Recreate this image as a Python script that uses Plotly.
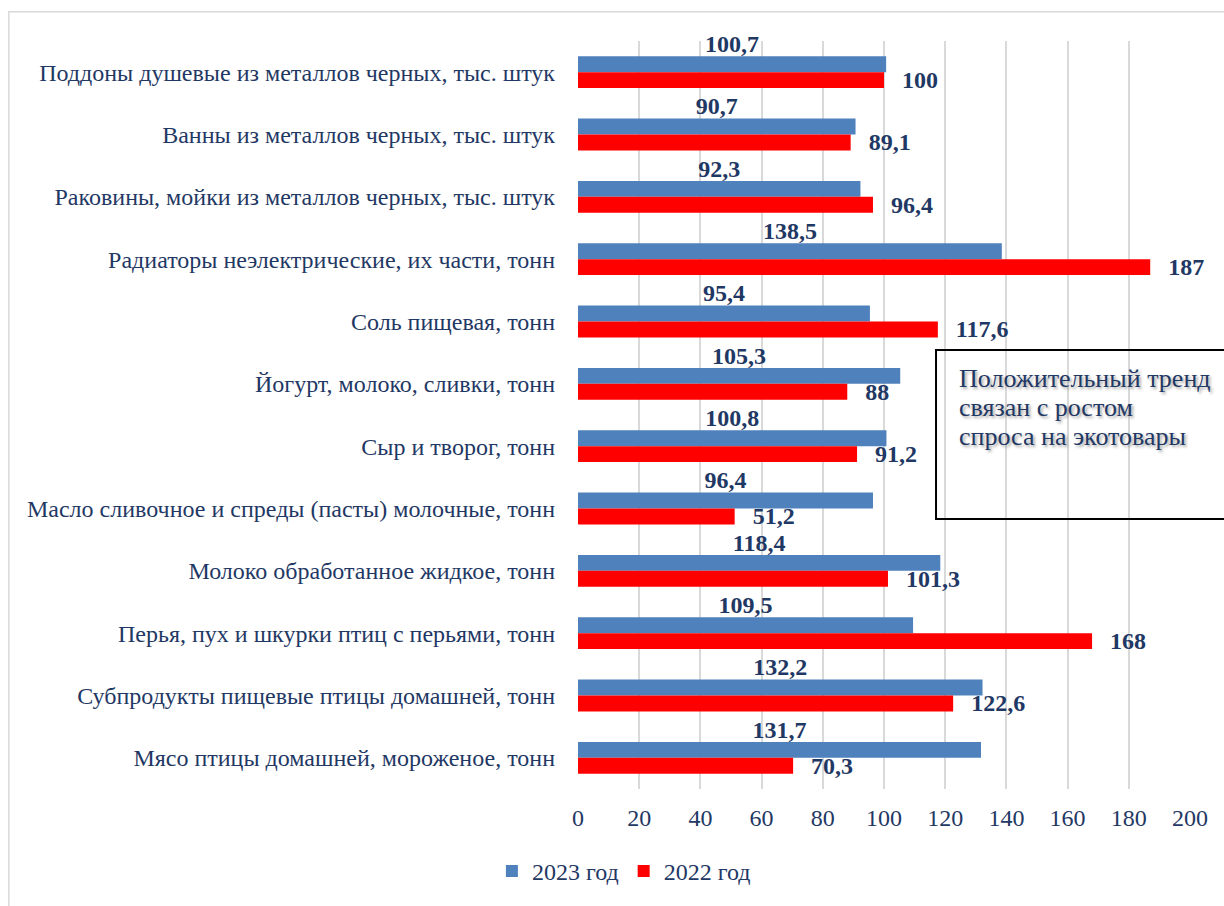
import plotly.graph_objects as go

categories = [
    "Поддоны душевые из металлов черных, тыс. штук",
    "Ванны из металлов черных, тыс. штук",
    "Раковины, мойки из металлов черных, тыс. штук",
    "Радиаторы неэлектрические, их части, тонн",
    "Соль пищевая, тонн",
    "Йогурт, молоко, сливки, тонн",
    "Сыр и творог, тонн",
    "Масло сливочное и спреды (пасты) молочные, тонн",
    "Молоко обработанное жидкое, тонн",
    "Перья, пух и шкурки птиц с перьями, тонн",
    "Субпродукты пищевые птицы домашней, тонн",
    "Мясо птицы домашней, мороженое, тонн",
]
values_2023 = [100.7, 90.7, 92.3, 138.5, 95.4, 105.3, 100.8, 96.4, 118.4, 109.5, 132.2, 131.7]
values_2022 = [100, 89.1, 96.4, 187, 117.6, 88, 91.2, 51.2, 101.3, 168, 122.6, 70.3]
x_ticks = [0, 20, 40, 60, 80, 100, 120, 140, 160, 180, 200]
note_lines = ["Положительный тренд", "связан с ростом", "спроса на экотовары"]

BLUE = "#4F81BD"
RED = "#FF0000"
NAVY = "#1F3864"
FONT = "Liberation Serif, Times New Roman, serif"

n = len(categories)
pos = [n - 1 - i for i in range(n)]
off = 0.128
bw = 0.255


def fmt(v):
    return ("%g" % v).replace(".", ",")


fig = go.Figure()
fig.add_trace(go.Bar(
    name="2023 год", orientation="h",
    x=values_2023, y=[p + off for p in pos], width=bw,
    marker=dict(color=BLUE, line=dict(width=0)),
))
fig.add_trace(go.Bar(
    name="2022 год", orientation="h",
    x=values_2022, y=[p - off for p in pos], width=bw,
    marker=dict(color=RED, line=dict(width=0)),
))
fig.add_trace(go.Scatter(
    x=[v / 2 for v in values_2023], y=[p + off + 0.29 for p in pos],
    mode="text", text=[fmt(v) for v in values_2023],
    textposition="middle center",
    textfont=dict(family=FONT, size=24, color=NAVY, weight="bold"),
    showlegend=False, hoverinfo="skip", cliponaxis=False,
))
fig.add_trace(go.Scatter(
    x=values_2022, y=[p - off - 0.03 for p in pos],
    mode="text", text=["   " + fmt(v) for v in values_2022],
    textposition="middle right",
    textfont=dict(family=FONT, size=24, color=NAVY, weight="bold"),
    showlegend=False, hoverinfo="skip", cliponaxis=False,
))

fig.update_layout(
    width=1224, height=906,
    margin=dict(l=578, r=34, t=41, b=112),
    paper_bgcolor="white", plot_bgcolor="white",
    font=dict(family=FONT, color=NAVY),
    barmode="overlay",
    xaxis=dict(
        range=[0, 200], tickvals=x_ticks, ticktext=[str(t) for t in x_ticks],
        showgrid=True, gridcolor="#D9D9D9", gridwidth=1.5,
        zeroline=False, showline=False,
        tickfont=dict(family=FONT, size=24, color=NAVY),
        ticklabelstandoff=12, fixedrange=True,
    ),
    yaxis=dict(
        range=[-0.5, n - 0.5], tickvals=pos, ticktext=categories,
        showgrid=False, zeroline=False, showline=False,
        tickfont=dict(family=FONT, size=24, color=NAVY),
        ticklabelstandoff=22, fixedrange=True,
    ),
    legend=dict(
        orientation="h", x=0.075, xanchor="center", y=-0.11, yanchor="middle",
        font=dict(family=FONT, size=24, color=NAVY),
        itemwidth=30, traceorder="normal",
    ),
    showlegend=True,
)

fig.add_shape(type="rect", xref="paper", yref="paper",
              x0=-0.93, x1=1.2, y0=-0.3, y1=1.039,
              line=dict(color="#D9D9D9", width=1.5), fillcolor="rgba(0,0,0,0)", layer="below")
fig.add_shape(type="rect", xref="paper", yref="paper",
              x0=0.585, x1=1.07, y0=0.361, y1=0.587,
              line=dict(color="black", width=2), fillcolor="rgba(0,0,0,0)")
# note text lines, 29 px apart
line_y0 = (794.4 - 381) / 754
step = 29 / 754
for i, line in enumerate(note_lines):
    fig.add_annotation(
        xref="paper", yref="paper", x=0.62, y=line_y0 - i * step,
        xanchor="left", yanchor="middle",
        text=line, showarrow=False, align="left",
        font=dict(family=FONT, size=26, color=NAVY, shadow="2px 2px 3px rgba(0,0,0,0.35)"),
    )

fig.write_html("out.html")
